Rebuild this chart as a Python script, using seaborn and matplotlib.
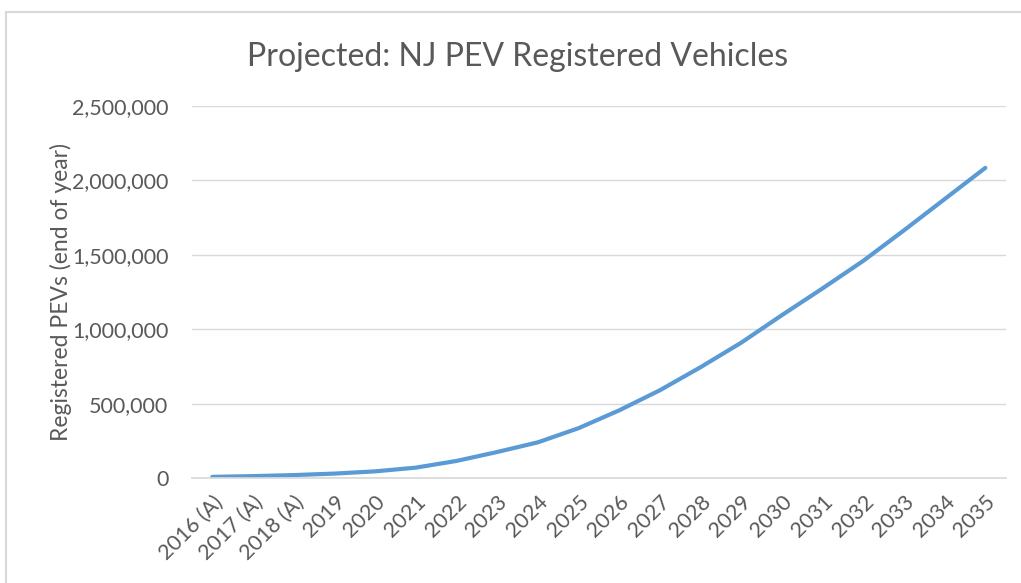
import matplotlib
matplotlib.use("Agg")
import matplotlib.pyplot as plt
import matplotlib.ticker as mticker
from matplotlib.lines import Line2D
import seaborn as sns
import pandas as pd

# Data
years = ["2016 (A)", "2017 (A)", "2018 (A)", "2019", "2020", "2021", "2022",
         "2023", "2024", "2025", "2026", "2027", "2028", "2029", "2030",
         "2031", "2032", "2033", "2034", "2035"]
registered = [8000, 13000, 20000, 30000, 45000, 70000, 115000, 175000,
              240000, 335000, 455000, 590000, 745000, 910000, 1095000,
              1275000, 1460000, 1665000, 1875000, 2085000]

df = pd.DataFrame({"year": years, "pevs": registered})
df["pos"] = range(len(df))

sns.set_theme(style="white")
plt.rcParams["font.family"] = ["Lato", "DejaVu Sans"]

fig = plt.figure(figsize=(10.21, 5.83), dpi=100)
ax = fig.add_axes([0.188, 0.180, 0.797, 0.638])

sns.lineplot(data=df, x="pos", y="pevs", ax=ax, color="#5B9BD5", linewidth=3)

ax.set_xlim(-0.5, len(years) - 0.5)
ax.set_ylim(0, 2500000)
ax.set_yticks(range(0, 2500001, 500000))
ax.yaxis.set_major_formatter(mticker.FuncFormatter(lambda v, p: f"{int(v):,}"))
ax.set_xticks(df["pos"])
ax.set_xticklabels(years, rotation=45, ha="right", rotation_mode="anchor")

ax.grid(axis="y", color="#D9D9D9", linewidth=1)
ax.set_axisbelow(True)
for s in ["top", "right", "left"]:
    ax.spines[s].set_visible(False)
ax.spines["bottom"].set_color("#D9D9D9")
ax.tick_params(axis="both", length=0, labelsize=15.5, colors="#595959")
ax.tick_params(axis="x", pad=10)
ax.tick_params(axis="y", pad=17)

ax.set_xlabel("")
ax.set_ylabel("Registered PEVs (end of year)", fontsize=16.5, color="#595959", labelpad=0)
fig.suptitle("Projected: NJ PEV Registered Vehicles", fontsize=23, color="#595959",
             x=0.507, y=0.902, va="center")

# light chart-area border (top and left edges visible in the reference)
fig.add_artist(Line2D([0.006, 1.0], [0.979, 0.979], transform=fig.transFigure,
                      color="#D9D9D9", linewidth=1.5))
fig.add_artist(Line2D([0.006, 0.006], [0.0, 0.979], transform=fig.transFigure,
                      color="#D9D9D9", linewidth=1.5))

fig.savefig("out.png", dpi=100)
